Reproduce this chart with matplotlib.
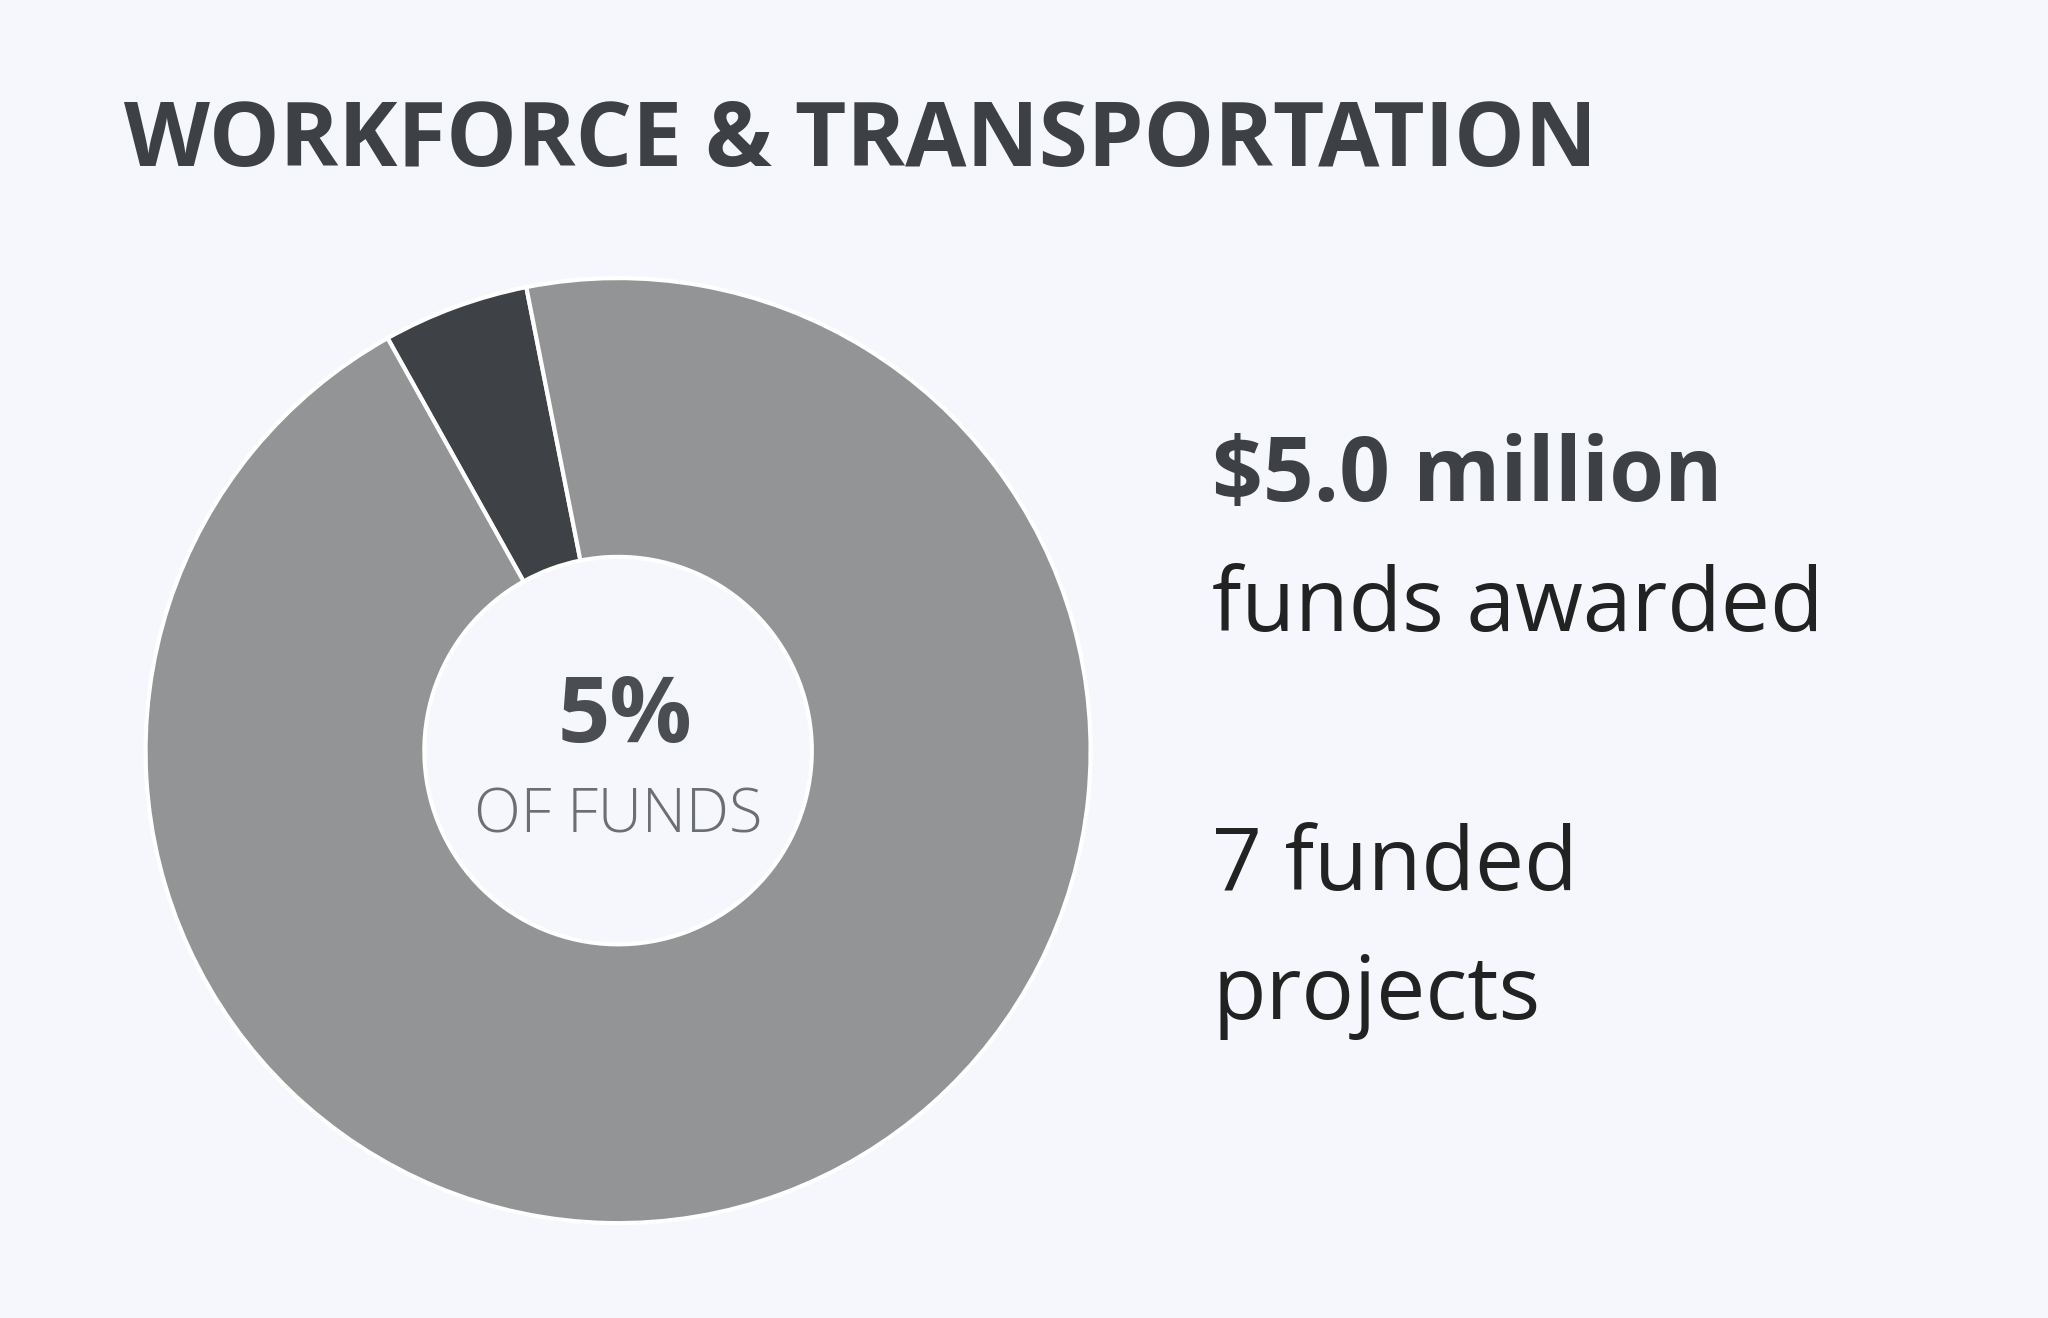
import matplotlib
matplotlib.use("Agg")
import matplotlib.pyplot as plt

shares = [5, 95]
colors = ["#3e4246", "#939496"]
title = "WORKFORCE & TRANSPORTATION"
center_value = "5%"
center_label = "OF FUNDS"
stat1 = "$5.0 million"
stat1_sub = "funds awarded"
stat2 = "7 funded"
stat2_sub = "projects"

bg = "#f6f7fc"
fig = plt.figure(figsize=(20.48, 13.18), dpi=100, facecolor=bg)
ax = fig.add_axes([0.071, 0.072, 0.4616, 0.717])
ax.set_facecolor(bg)
ax.pie(shares, colors=colors, startangle=101.2, counterclock=True,
       wedgeprops=dict(width=0.59, edgecolor="white", linewidth=3))
ax.set_xlim(-1, 1); ax.set_ylim(-1, 1); ax.set_aspect("equal"); ax.axis("off")

fam = ["Open Sans", "DejaVu Sans"]
fig.text(0.0606, 0.874, title, fontsize=64, fontweight="bold", color="#3d4044",
         family=fam, va="baseline", ha="left")
fig.text(0.305, 0.437, center_value, fontsize=66, fontweight="bold", color="#4a4d52",
         family=fam, va="baseline", ha="center")
fig.text(0.302, 0.368, center_label, fontsize=44, color="#6b6e73",
         family=fam, va="baseline", ha="center", fontweight="light")
fig.text(0.592, 0.620, stat1, fontsize=64, fontweight="bold", color="#3d4044",
         family=fam, va="baseline")
fig.text(0.592, 0.521, stat1_sub, fontsize=63, color="#222222", family=fam, va="baseline")
fig.text(0.592, 0.325, stat2, fontsize=63, color="#222222", family=fam, va="baseline")
fig.text(0.592, 0.227, stat2_sub, fontsize=63, color="#222222", family=fam, va="baseline")
fig.savefig("out.png", dpi=100, facecolor=bg)
